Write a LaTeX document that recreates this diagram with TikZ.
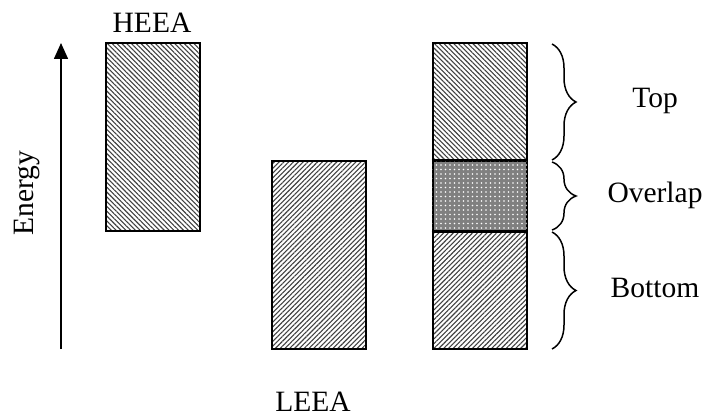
\documentclass[tikz,border=0pt]{standalone}
\usepackage{fontspec}
\setmainfont{Liberation Serif}
\usetikzlibrary{patterns,patterns.meta,arrows.meta,decorations.pathreplacing}
\begin{document}
\begin{tikzpicture}[x=1pt,y=-1pt,
  lbl/.style={font=\fontsize{29.5}{34}\selectfont, inner sep=0pt},
  bar/.style={draw=black, line width=2pt, minimum width=94pt, inner sep=0pt, anchor=center},
  bslash/.style={pattern={Lines[angle=-45,distance=3.4pt,line width=1.1pt]}, pattern color=black!75},
  fslash/.style={pattern={Lines[angle=45,distance=3.4pt,line width=1.1pt]}, pattern color=black!75},
  dotted fill/.style={fill=black!50, postaction={pattern={Dots[distance=4.5pt,radius=0.9pt]}, pattern color=white}},
  brc/.style={decorate, decoration={brace, amplitude=24pt}, line width=1.5pt}
]
\useasboundingbox (0,0) rectangle (707,417);

% bars
\node[bar, bslash, minimum height=188pt] (heea) at (153,137) {};
\node[bar, fslash, minimum height=188pt] (leea) at (318.5,255) {};
\node[bar, bslash, minimum height=118pt] (top) at (479.5,102) {};
\node[bar, dotted fill, minimum height=70pt] (ovl) at (479.5,196) {};
\node[bar, fslash, minimum height=118pt] (bot) at (479.5,290) {};
\draw[line width=2pt] (ovl.north west) -- (ovl.north east) (ovl.south west) -- (ovl.south east);

% labels
\node[lbl] (heeal) at (152,23) {HEEA};
\node[lbl] (leeal) at (313,402) {LEEA};
\node[lbl, rotate=90] (energy) at (27,193) {Energy};
\node[lbl] (topl) at (655,101) {Top};
\node[lbl] (ovll) at (655,195) {Overlap};
\node[lbl] (botl) at (655,288) {Bottom};

% energy arrow
\coordinate (a0) at (61,349);
\coordinate (a1) at (61,43);
\draw[line width=1.5pt, -{Triangle[length=16pt,width=14pt]}] (a0) -- (a1);

% braces
\coordinate (t0) at (552,44);
\coordinate (t1) at (552,160);
\coordinate (o0) at (552,162);
\coordinate (o1) at (552,230);
\coordinate (b0) at (552,232);
\coordinate (b1) at (552,349);
\draw[brc] (t0) -- (t1);
\draw[brc] (o0) -- (o1);
\draw[brc] (b0) -- (b1);
\end{tikzpicture}
\end{document}
